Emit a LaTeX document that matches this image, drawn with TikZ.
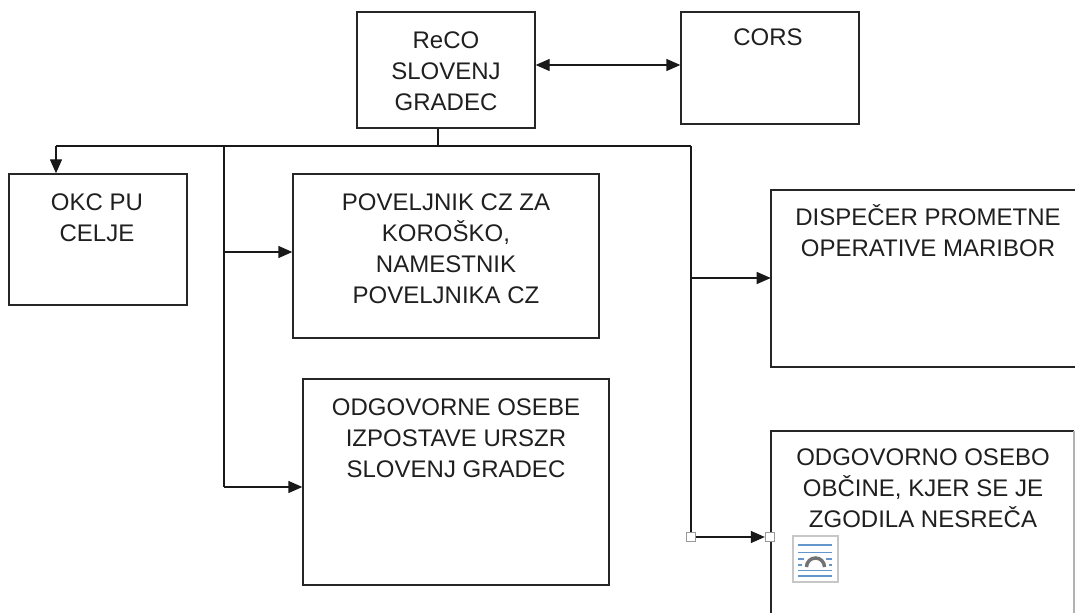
\documentclass[tikz,border=0pt]{standalone}
\usepackage{fontspec}
\setmainfont{Liberation Sans}
\usetikzlibrary{arrows.meta,calc,fit}
\definecolor{iconblue}{RGB}{100,150,205}
\newcommand\mlines[1]{\vtop{\halign{\hfil##\hfil\cr#1\crcr}}}
\begin{document}
\begin{tikzpicture}[x=0.75pt,y=-0.75pt,
  box/.style={draw=black!85, line width=1pt, inner sep=0pt},
  ghost/.style={draw=none, inner sep=0pt},
  edge/.style={draw=black!85, line width=1pt},
  txt/.style={anchor=base, inner sep=0pt, text=black!88, font=\fontsize{18}{23.25}\selectfont},
  conn/.style={draw=black!90, line width=1pt},
  tip/.tip={Triangle[length=10.5pt,width=9pt]},
  arr/.style={conn, -tip},
  handle/.style={draw=black!40, fill=white, line width=0.6pt, minimum size=7.2pt, inner sep=0pt},
  iconline/.style={draw=iconblue, line width=1.1pt}]
\useasboundingbox (0,0) rectangle (1075,613);
% boxes
\node[box, fit={(357,12) (535,128)}] (reco) {};
\node[box, fit={(681,12) (859,124)}] (cors) {};
\node[box, fit={(9,174) (187,305)}] (okc) {};
\node[box, fit={(293,174) (599,338)}] (pov) {};
\node[box, fit={(303,379) (609,585)}] (odg) {};
\node[ghost, fit={(771,190) (1085,367)}] (dis) {};
\node[ghost, fit={(771,431) (1075,640)}] (obc) {};
\draw[edge] (1075,190) -- (771,190) -- (771,367) -- (1075,367);
\draw[edge] (771,613) -- (771,431) -- (1074,431);
\draw[draw=black!30, line width=0.8pt] (1074,431) -- (1074,613);
% texts
\node[txt] (treco) at (446,48.5) {\mlines{ReCO\cr SLOVENJ\cr GRADEC}};
\node[txt] (tcors) at (768,45.5) {CORS};
\node[txt] (tokc) at (97,210.5) {\mlines{OKC PU\cr CELJE}};
\node[txt] (tpov) at (446,210.5) {\mlines{POVELJNIK CZ ZA\cr KOROŠKO,\cr NAMESTNIK\cr POVELJNIKA CZ}};
\node[txt] (todg) at (456,415.5) {\mlines{ODGOVORNE OSEBE\cr IZPOSTAVE URSZR\cr SLOVENJ GRADEC}};
\node[txt] (tdis) at (928,225.5) {\mlines{DISPEČER PROMETNE\cr OPERATIVE MARIBOR}};
\node[txt] (tobc) at (923,465.5) {\mlines{ODGOVORNO OSEBO\cr OBČINE, KJER SE JE\cr ZGODILA NESREČA}};
% junctions
\coordinate (jtop) at (438,146);
\coordinate (jl) at (56,146);
\coordinate (jm) at (224,146);
\coordinate (jr) at (691,146);
\coordinate (jm2) at (224,252);
\coordinate (jm3) at (224,487);
\coordinate (jr2) at (691,278);
\coordinate (ra) at (535,65);
\node[handle] (h1) at (691,537) {};
\node[handle] (h2) at (770,537) {};
% connectors
\draw[conn, tip-tip] (ra -| reco.east) -- (ra -| cors.west);
\draw[conn] (reco.south -| jtop) -- (jtop);
\draw[conn] (jl) -- (jr);
\draw[arr] (jl) -- (jl |- okc.north);
\draw[conn] (jm) -- (jm3);
\draw[arr] (jm2) -- (jm2 -| pov.west);
\draw[arr] (jm3) -- (jm3 -| odg.west);
\draw[conn] (jr) -- (h1.north);
\draw[arr] (jr2) -- (jr2 -| dis.west);
\draw[arr] (h1) -- (h2);
% layout icon
\node[draw=black!22, fill=white, line width=0.9pt, inner sep=0pt, fit={(793,536) (838,582)}] (icon) {};
\draw[iconline] (798,545) -- (832,545);
\draw[iconline] (798,552.5) -- (832,552.5);
\draw[iconline] (798,559) -- (804,559) (826,559) -- (832,559);
\draw[iconline] (798,565) -- (802,565) (829,565) -- (832,565);
\draw[iconline] (798,570.5) -- (832,570.5);
\draw[iconline] (798,576) -- (832,576);
\draw[draw=black!55, line width=2.6pt] (806.5,567) arc[start angle=180, end angle=360, radius=9];
\end{tikzpicture}
\end{document}
